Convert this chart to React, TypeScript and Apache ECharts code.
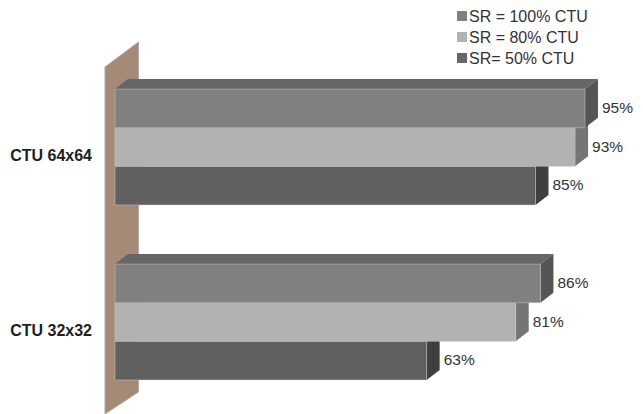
import React, { useEffect, useRef } from "react";
import * as echarts from "echarts";

const categories = ["CTU 64x64", "CTU 32x32"];
const seriesNames = ["SR = 100% CTU", "SR = 80% CTU", "SR= 50% CTU"];
const full = [95, 86];
const eighty = [93, 81];
const fifty = [85, 63];

const seriesValues = [full, eighty, fifty];
const frontColors = ["#808080", "#b2b2b2", "#606060"];
const sideColors = ["#555555", "#757575", "#3f3f3f"];
const topColors = ["#666666", "#8a8a8a", "#484848"];
const legendColors = ["#808080", "#b2b2b2", "#666666"];

const BAR_H = 38.6;
const DEPTH_X = 13;
const DEPTH_Y = 10;

function barRenderer(index: number) {
  return (_params: any, api: any) => {
    const cat = api.value(1);
    const [x1, yc] = api.coord([api.value(0), cat]);
    const [x0] = api.coord([0, cat]);
    const top = yc - BAR_H * 1.5 + index * BAR_H;
    const bottom = top + BAR_H;
    return {
      type: "group",
      children: [
        {
          type: "polygon",
          shape: {
            points: [
              [x0, top],
              [x0 + DEPTH_X, top - DEPTH_Y],
              [x1 + DEPTH_X, top - DEPTH_Y],
              [x1, top],
            ],
          },
          style: { fill: topColors[index] },
        },
        {
          type: "polygon",
          shape: {
            points: [
              [x1, top],
              [x1 + DEPTH_X, top - DEPTH_Y],
              [x1 + DEPTH_X, bottom - DEPTH_Y],
              [x1, bottom],
            ],
          },
          style: { fill: sideColors[index] },
        },
        {
          type: "rect",
          shape: { x: x0, y: top, width: x1 - x0, height: BAR_H },
          style: { fill: frontColors[index], stroke: "#c4c4c4", lineWidth: 0.5 },
        },
        {
          type: "text",
          x: x1 + 17,
          y: (top + bottom) / 2 - 1,
          style: {
            text: `${api.value(0)}%`,
            fill: "#333333",
            font: '15.5px "Liberation Sans", Arial, sans-serif',
            align: "left",
            verticalAlign: "middle",
          },
        },
      ],
    };
  };
}

export default function App() {
  const ref = useRef<HTMLDivElement>(null);

  useEffect(() => {
    const chart = echarts.init(ref.current!, undefined, { renderer: "svg" });
    chart.setOption({
      animation: false,
      backgroundColor: "#ffffff",
      textStyle: { fontFamily: '"Liberation Sans", Arial, sans-serif' },
      grid: { left: 115, width: 494.7, top: 59.5, height: 350 },
      legend: {
        orient: "vertical",
        left: 452,
        top: 3,
        itemWidth: 10,
        itemHeight: 10,
        itemGap: 5,
        icon: "rect",
        data: seriesNames.map((name, i) => ({
          name,
          itemStyle: { color: legendColors[i] },
        })),
        textStyle: {
          color: "#333333",
          fontSize: 16,
          padding: [0, 0, 0, -3],
        },
      },
      xAxis: { type: "value", min: 0, max: 100, show: false },
      yAxis: {
        type: "category",
        inverse: true,
        data: categories,
        axisLine: { show: false },
        axisTick: { show: false },
        axisLabel: {
          color: "#1f1f1f",
          fontSize: 16,
          fontWeight: "bold",
          margin: 23,
          verticalAlign: "top",
        },
      },
      graphic: [
        {
          type: "polygon",
          z: 0,
          shape: {
            points: [
              [105, 67],
              [138.5, 42],
              [138.5, 392],
              [105, 414],
            ],
          },
          style: { fill: "#a58a78", stroke: "#b0a8a2", lineWidth: 1 },
        },
      ],
      series: seriesNames.map((name, i) => ({
        name,
        type: "custom",
        z: 10 - i,
        itemStyle: { color: frontColors[i] },
        encode: { x: 0, y: 1 },
        data: seriesValues[i].map((v, c) => [v, c]),
        renderItem: barRenderer(i),
        clip: false,
      })),
    });
    return () => chart.dispose();
  }, []);

  return (
    <div
      ref={ref}
      style={{ position: "absolute", left: 0, top: 0, width: 643, height: 414 }}
    />
  );
}
